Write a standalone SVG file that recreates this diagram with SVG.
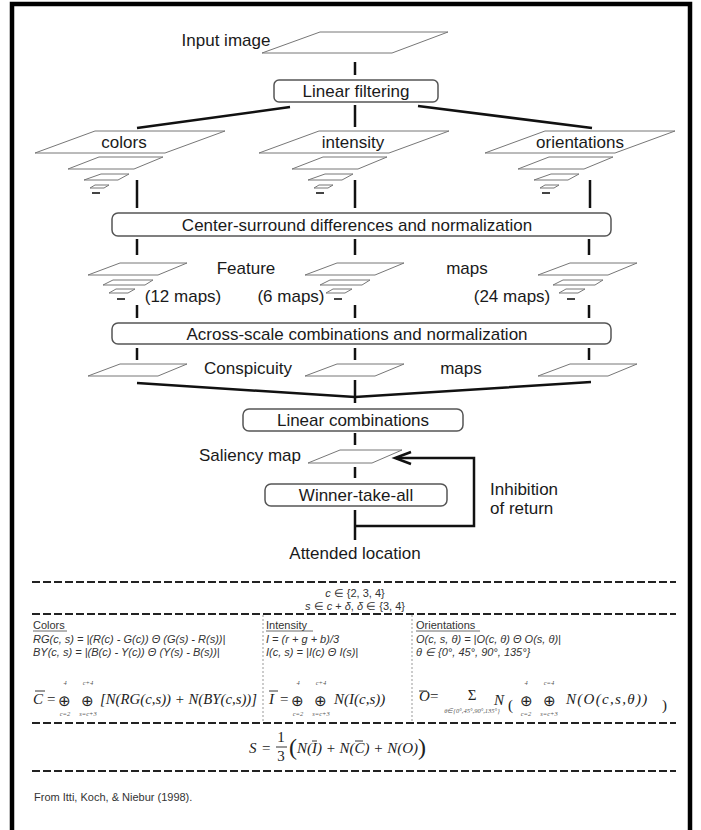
<svg xmlns="http://www.w3.org/2000/svg" width="701" height="830" viewBox="0 0 701 830">
<style>
.lbl{font-family:"Liberation Sans",Arial,sans-serif;font-size:17px;fill:#1a1a1a}
.box{fill:#fff;stroke:#555;stroke-width:1.5}
.map{fill:#fff;stroke:#777;stroke-width:1}
.conn{stroke:#111;stroke-width:2.5;fill:none}
.dash{stroke:#222;stroke-width:2.2;stroke-dasharray:8 3;fill:none}
.vsep{stroke:#999;stroke-width:1;stroke-dasharray:2 2}
.t{font-family:"Liberation Sans",Arial,sans-serif;font-size:11px;fill:#333}
.ti{font-family:"Liberation Sans",Arial,sans-serif;font-size:11px;fill:#333;font-style:italic}
.m{font-family:"Liberation Serif","Times New Roman",serif;font-style:italic;font-size:15px;fill:#222}
.mu{font-family:"Liberation Serif","Times New Roman",serif;font-size:15px;fill:#222}
.lim{font-family:"Liberation Serif","Times New Roman",serif;font-style:italic;font-size:6.5px;fill:#555}
.ob{stroke:#333;stroke-width:1}
</style>
<rect x="12" y="4" width="678" height="840" fill="none" stroke="#000" stroke-width="4.5"/>

<g id="connectors">
<line class="conn" x1="355" y1="62" x2="355" y2="75"/>
<line class="conn" x1="355" y1="105" x2="355" y2="127"/>
<line class="conn" x1="290" y1="107" x2="137" y2="128"/>
<line class="conn" x1="418" y1="106" x2="592" y2="128"/>
<line class="conn" x1="137" y1="180" x2="137" y2="208"/>
<line class="conn" x1="355" y1="180" x2="355" y2="208"/>
<line class="conn" x1="590" y1="180" x2="590" y2="208"/>
<line class="conn" x1="137" y1="239" x2="137" y2="255"/>
<line class="conn" x1="355" y1="239" x2="355" y2="255"/>
<line class="conn" x1="589" y1="239" x2="589" y2="255"/>
<line class="conn" x1="137" y1="305" x2="137" y2="318"/>
<line class="conn" x1="355" y1="305" x2="355" y2="318"/>
<line class="conn" x1="589" y1="305" x2="589" y2="318"/>
<line class="conn" x1="137" y1="348" x2="137" y2="360"/>
<line class="conn" x1="355" y1="348" x2="355" y2="360"/>
<line class="conn" x1="589" y1="348" x2="589" y2="360"/>
<polyline class="conn" points="137,383 355,397 591,382"/>
<line class="conn" x1="355" y1="380" x2="355" y2="403"/>
<line class="conn" x1="355" y1="433" x2="355" y2="445"/>
<line class="conn" x1="355" y1="467" x2="355" y2="478"/>
<line class="conn" x1="355" y1="510" x2="355" y2="540"/>
<polyline class="conn" points="355,526 474,526 474,458 396,458"/>
<polyline class="conn" points="411,452 395,458 411,464"/>
</g>

<g id="input-image">
<text class="lbl" x="226" y="46" text-anchor="middle">Input image</text>
<polygon class="map" points="320,32 448,32 392,53 262,53"/>
</g>
<g id="linear-filtering">
<rect class="box" x="274" y="80" width="164" height="22" rx="5"/>
<text class="lbl" x="356" y="97" text-anchor="middle">Linear filtering</text>
</g>

<g id="colors-pyramid">
<polygon class="map" points="95,131 225,131 165,153 35,153"/>
<text class="lbl" x="124" y="148" text-anchor="middle" font-size="16">colors</text>
<polygon class="map" points="99,157 163,157 134,169 68,169"/>
<polygon class="map" points="101,174 129,174 118,180 84,180"/>
<polygon class="map" points="95,185 109,185 104,188 90,188"/>
<line x1="92" y1="193" x2="100" y2="193" stroke="#444" stroke-width="2"/>
</g>
<g id="intensity-pyramid">
<polygon class="map" points="319,131 449,131 389,153 259,153"/>
<text class="lbl" x="353" y="148" text-anchor="middle" font-size="16">intensity</text>
<polygon class="map" points="323,157 387,157 358,169 292,169"/>
<polygon class="map" points="325,174 353,174 342,180 308,180"/>
<polygon class="map" points="319,185 333,185 328,188 314,188"/>
<line x1="316" y1="193" x2="324" y2="193" stroke="#444" stroke-width="2"/>
</g>
<g id="orientations-pyramid">
<polygon class="map" points="545,131 675,131 615,153 485,153"/>
<text class="lbl" x="580" y="148" text-anchor="middle" font-size="16">orientations</text>
<polygon class="map" points="549,157 613,157 584,169 518,169"/>
<polygon class="map" points="551,174 579,174 568,180 534,180"/>
<polygon class="map" points="545,185 559,185 554,188 540,188"/>
<line x1="542" y1="193" x2="550" y2="193" stroke="#444" stroke-width="2"/>
</g>

<g id="center-surround">
<rect class="box" x="112" y="213" width="499" height="23" rx="6"/>
<text class="lbl" x="357" y="231" text-anchor="middle">Center-surround differences and normalization</text>
</g>

<g id="feature-colors">
<polygon class="map" points="120,263 187,263 158,275 88,275"/>
<polygon class="map" points="113,280 153,280 145,285 103,285"/>
<polygon class="map" points="116,289 135,289 128,293 109,293"/>
<line x1="117" y1="299" x2="125" y2="299" stroke="#444" stroke-width="2"/>
</g>
<g id="feature-intensity">
<polygon class="map" points="337,263 404,263 375,275 305,275"/>
<polygon class="map" points="330,280 370,280 362,285 320,285"/>
<polygon class="map" points="333,289 352,289 345,293 326,293"/>
<line x1="334" y1="299" x2="342" y2="299" stroke="#444" stroke-width="2"/>
</g>
<g id="feature-orientations">
<polygon class="map" points="570,263 637,263 608,275 538,275"/>
<polygon class="map" points="563,280 603,280 595,285 553,285"/>
<polygon class="map" points="566,289 585,289 578,293 559,293"/>
<line x1="567" y1="299" x2="575" y2="299" stroke="#444" stroke-width="2"/>
</g>
<g id="feature-labels">
<text class="lbl" x="246" y="274" text-anchor="middle">Feature</text>
<text class="lbl" x="467" y="274" text-anchor="middle">maps</text>
<text class="lbl" x="183" y="302" text-anchor="middle">(12 maps)</text>
<text class="lbl" x="291" y="302" text-anchor="middle">(6 maps)</text>
<text class="lbl" x="512" y="302" text-anchor="middle">(24 maps)</text>
</g>

<g id="across-scale">
<rect class="box" x="112" y="323" width="499" height="21" rx="6"/>
<text class="lbl" x="357" y="340" text-anchor="middle">Across-scale combinations and normalization</text>
</g>

<g id="conspicuity">
<polygon class="map" points="120,364 187,364 158,376 88,376"/>
<polygon class="map" points="337,364 404,364 375,376 305,376"/>
<polygon class="map" points="570,364 637,364 608,376 538,376"/>
<text class="lbl" x="248" y="374" text-anchor="middle">Conspicuity</text>
<text class="lbl" x="461" y="374" text-anchor="middle">maps</text>
</g>

<g id="linear-combinations">
<rect class="box" x="243" y="409" width="220" height="22" rx="6"/>
<text class="lbl" x="353" y="426" text-anchor="middle">Linear combinations</text>
</g>
<g id="saliency-map">
<polygon class="map" points="340,450 402,450 372,463 308,463"/>
<text class="lbl" x="250" y="461" text-anchor="middle" font-size="16">Saliency map</text>
</g>
<g id="winner-take-all">
<rect class="box" x="265" y="484" width="182" height="22" rx="6"/>
<text class="lbl" x="356" y="501" text-anchor="middle">Winner-take-all</text>
</g>
<g id="inhibition-label">
<text class="lbl" x="490" y="495" font-size="16">Inhibition</text>
<text class="lbl" x="490" y="514" font-size="16">of return</text>
</g>
<g id="attended-location">
<text class="lbl" x="355" y="559" text-anchor="middle">Attended location</text>
</g>

<g id="formulas">
<line class="dash" x1="32" y1="582" x2="676" y2="582"/>
<text class="t" x="355" y="597" text-anchor="middle" font-size="10.5"><tspan font-style="italic">c</tspan> ∈ {2, 3, 4}</text>
<text class="t" x="355" y="610" text-anchor="middle" font-size="10.5"><tspan font-style="italic">s</tspan> ∈ <tspan font-style="italic">c</tspan> + <tspan font-style="italic">δ</tspan>, <tspan font-style="italic">δ</tspan> ∈ {3, 4}</text>
<line class="dash" x1="32" y1="614" x2="676" y2="614"/>
<line class="vsep" x1="263" y1="615" x2="263" y2="722"/>
<line class="vsep" x1="412" y1="615" x2="412" y2="722"/>

<text class="t" x="33" y="629">Colors</text>
<line x1="33" y1="631" x2="67" y2="631" stroke="#444" stroke-width="0.8"/>
<text class="ti" x="33" y="643">RG(c, s) = |(R(c) - G(c)) Θ (G(s) - R(s))|</text>
<text class="ti" x="33" y="656">BY(c, s) = |(B(c) - Y(c)) Θ (Y(s) - B(s))|</text>

<text class="t" x="266" y="629">Intensity</text>
<line x1="266" y1="631" x2="313" y2="631" stroke="#444" stroke-width="0.8"/>
<text class="ti" x="266" y="643">I = (r + g + b)/3</text>
<text class="ti" x="266" y="656">I(c, s) = |I(c) Θ I(s)|</text>

<text class="t" x="416" y="629">Orientations</text>
<line x1="416" y1="631" x2="480" y2="631" stroke="#444" stroke-width="0.8"/>
<text class="ti" x="416" y="643">O(c, s, θ) = |O(c, θ) Θ O(s, θ)|</text>
<text class="ti" x="416" y="656">θ ∈ {0°, 45°, 90°, 135°}</text>

<text class="m" x="33" y="704">C</text>
<line class="ob" x1="35" y1="691" x2="45" y2="691"/>
<text class="mu" x="47" y="704">=</text>
<text class="mu" x="58" y="706" font-size="19">⊕</text>
<text class="lim" x="65" y="685" text-anchor="middle">4</text>
<text class="lim" x="65" y="716" text-anchor="middle">c=2</text>
<text class="mu" x="81" y="706" font-size="19">⊕</text>
<text class="lim" x="88" y="685" text-anchor="middle">c+4</text>
<text class="lim" x="88" y="716" text-anchor="middle">s=c+3</text>
<text class="m" x="100" y="704" textLength="157" lengthAdjust="spacingAndGlyphs">[N(RG(c,s)) + N(BY(c,s))]</text>

<text class="m" x="269" y="704">I</text>
<line class="ob" x1="269" y1="691" x2="278" y2="691"/>
<text class="mu" x="280" y="704">=</text>
<text class="mu" x="291" y="706" font-size="19">⊕</text>
<text class="lim" x="298" y="685" text-anchor="middle">4</text>
<text class="lim" x="298" y="716" text-anchor="middle">c=2</text>
<text class="mu" x="314" y="706" font-size="19">⊕</text>
<text class="lim" x="321" y="685" text-anchor="middle">c+4</text>
<text class="lim" x="321" y="716" text-anchor="middle">s=c+3</text>
<text class="m" x="334" y="704" font-size="16">N(I(c,s))</text>

<text class="m" x="419" y="701" font-size="11">O</text>
<line class="ob" x1="419" y1="691" x2="427" y2="691"/>
<text class="mu" x="430" y="701" font-size="11">=</text>
<text class="mu" x="472" y="700" font-size="11" text-anchor="middle">Σ</text>
<text class="lim" x="472" y="713" text-anchor="middle">θ∈{0°,45°,90°,135°}</text>
<text class="m" x="494" y="705" font-size="19">N</text>
<text class="mu" x="508" y="710" font-size="34">(</text>
<text class="mu" x="520" y="706" font-size="17">⊕</text>
<text class="lim" x="526" y="685" text-anchor="middle">4</text>
<text class="lim" x="526" y="716" text-anchor="middle">c=2</text>
<text class="mu" x="543" y="706" font-size="17">⊕</text>
<text class="lim" x="549" y="685" text-anchor="middle">c=4</text>
<text class="lim" x="549" y="716" text-anchor="middle">s=c+3</text>
<text class="m" x="566" y="704" font-size="17" letter-spacing="1.3">N(O(c,s,θ))</text>
<text class="mu" x="662" y="710" font-size="34">)</text>

<line class="dash" x1="32" y1="723" x2="676" y2="723"/>

<text class="m" x="249" y="753" font-size="17">S</text>
<text class="mu" x="262" y="753" font-size="16">=</text>
<text class="mu" x="281" y="742" font-size="13" text-anchor="middle">1</text>
<line x1="276" y1="747" x2="287" y2="747" stroke="#333" stroke-width="1"/>
<text class="mu" x="281" y="761" font-size="13" text-anchor="middle">3</text>
<text class="m" x="289" y="753" font-size="14"><tspan font-style="normal" font-size="24" dy="2">(</tspan><tspan dy="-2">N(I) + N(C) + N(O)</tspan><tspan font-style="normal" font-size="24" dy="2">)</tspan></text>
<line class="ob" x1="312" y1="741" x2="317" y2="741"/>
<line class="ob" x1="355" y1="741" x2="363" y2="741"/>

<line class="dash" x1="32" y1="771" x2="676" y2="771"/>
<text class="t" x="34" y="801" font-size="12.5">From Itti, Koch, &amp; Niebur (1998).</text>
</g>
</svg>
